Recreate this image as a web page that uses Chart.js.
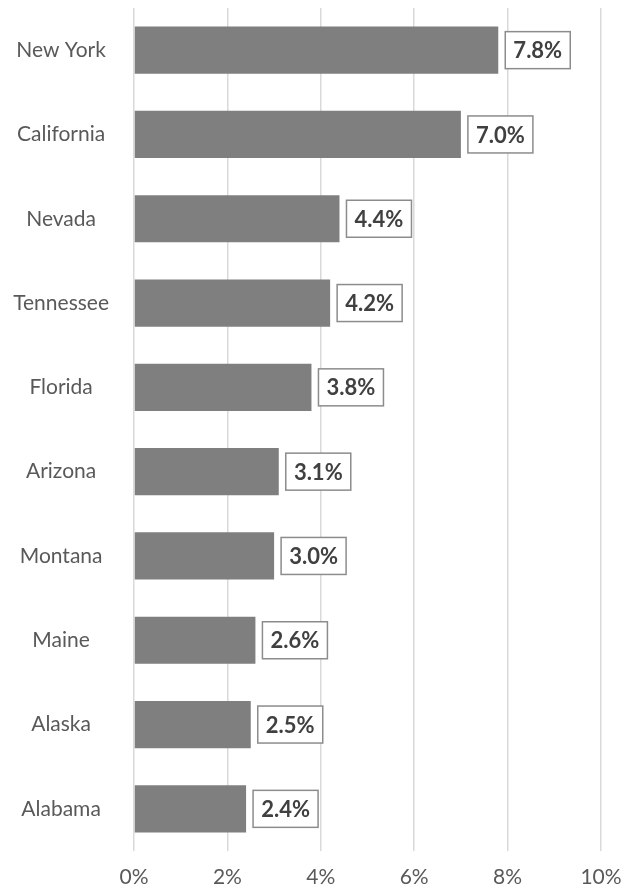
<!DOCTYPE html>
<html>
<head>
  <meta charset="utf-8" />
  <script src="https://cdn.jsdelivr.net/npm/chart.js@4.4.1/dist/chart.umd.min.js"></script>
  <style>
    html,body{margin:0;padding:0;background:#fff;}
    #wrap{width:621px;height:890px;position:relative;}
  </style>
</head>
<body>
<div id="wrap"><canvas id="chart"></canvas></div>

<script>
/* ---------- Data ---------- */
const states = ['New York','California','Nevada','Tennessee','Florida','Arizona','Montana','Maine','Alaska','Alabama'];
const shares = [7.8, 7.0, 4.4, 4.2, 3.8, 3.1, 3.0, 2.6, 2.5, 2.4];   // percent
const xTicks = [0, 2, 4, 6, 8, 10];

const FONT = 'Lato, "Open Sans", sans-serif';

/* ---------- Boxed value labels ---------- */
const boxLabels = {
  id: 'boxLabels',
  afterDatasetsDraw(chart){
    const ctx = chart.ctx;
    const meta = chart.getDatasetMeta(0);
    ctx.save();
    ctx.font = 'bold 22px ' + FONT;
    ctx.textAlign = 'center';
    ctx.textBaseline = 'middle';
    meta.data.forEach((bar, i) => {
      const w = 65, h = 37;
      const x0 = bar.x + 7, y0 = bar.y - h / 2;
      ctx.fillStyle = '#fff';
      ctx.fillRect(x0, y0, w, h);
      ctx.strokeStyle = '#8c8c8c';
      ctx.lineWidth = 1.5;
      ctx.strokeRect(x0, y0, w, h);
      ctx.fillStyle = '#404040';
      ctx.fillText(shares[i].toFixed(1) + '%', x0 + w / 2, bar.y + 1);
    });
    ctx.restore();
  }
};

new Chart(document.getElementById('chart'), {
  type: 'bar',
  data: {
    labels: states,
    datasets: [{
      data: shares,
      backgroundColor: '#7f7f7f',
      barPercentage: 0.56,
      categoryPercentage: 1
    }]
  },
  options: {
    indexAxis: 'y',
    responsive: true,
    maintainAspectRatio: false,
    animation: false,
    layout: { padding: { top: 8, right: 20, left: 0, bottom: 0 } },
    plugins: { legend: { display: false }, tooltip: { enabled: false } },
    scales: {
      x: {
        min: 0, max: 10,
        afterBuildTicks: s => { s.ticks = xTicks.map(v => ({ value: v })); },
        afterFit: s => { s.height = 39; s.paddingLeft = 0; s.paddingRight = 0; },
        ticks: {
          color: '#595959',
          font: { family: FONT, size: 21 },
          padding: 14,
          callback: v => v + '%'
        },
        grid: { color: '#d9d9d9', lineWidth: 1.5, drawTicks: false },
        border: { display: false }
      },
      y: {
        afterFit: s => { s.width = 134; s.paddingTop = 0; s.paddingBottom = 0; },
        ticks: {
          color: '#595959',
          font: { family: FONT, size: 21 },
          crossAlign: 'center',
          padding: 25
        },
        grid: { display: false, drawTicks: false },
        border: { display: false }
      }
    }
  },
  plugins: [boxLabels]
});
</script>
</body>
</html>
